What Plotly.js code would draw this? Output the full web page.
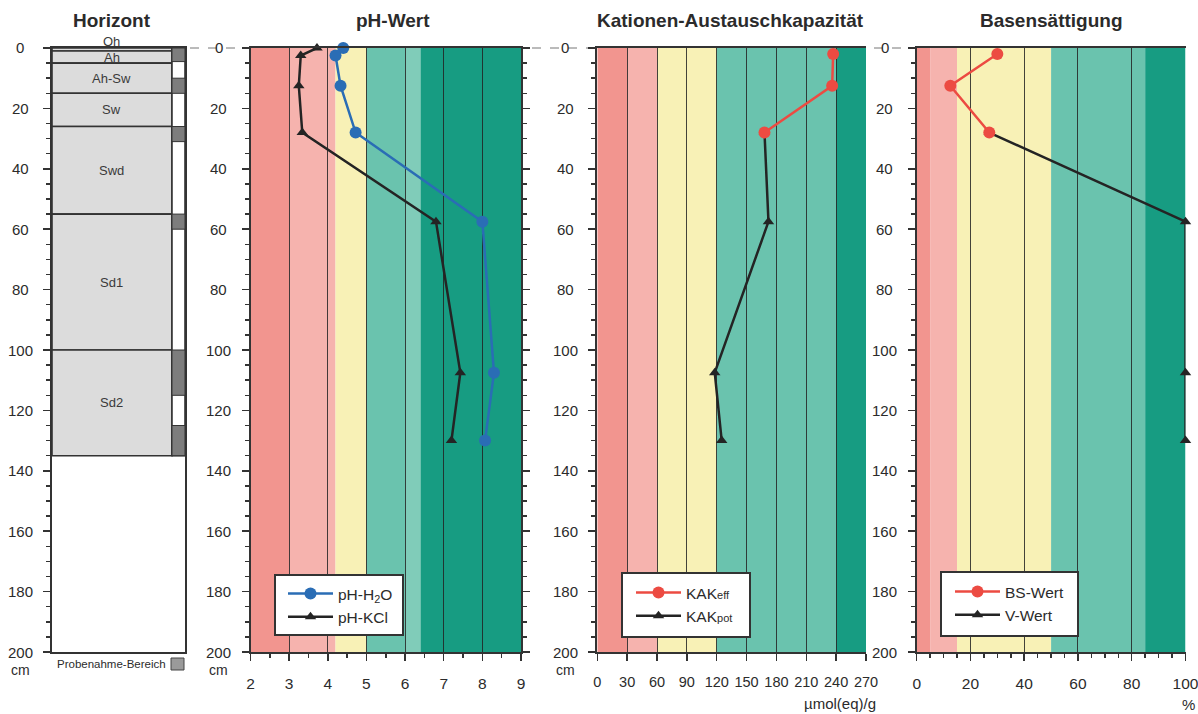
<!DOCTYPE html>
<html><head><meta charset="utf-8">
<script src="https://cdn.plot.ly/plotly-3.0.1.min.js"></script>
<style>html,body{margin:0;padding:0;background:#fff}#chart{width:1198px;height:714px}</style>
</head><body><div id="chart"></div>
<script>
// ---------- data ----------
const horizonNames  = ['Oh','Ah','Ah-Sw','Sw','Swd','Sd1','Sd2'];
const horizonTop    = [0, 1, 5, 15, 26, 55, 100];
const horizonBottom = [1, 5, 15, 26, 55, 100, 135];
const sampleTop     = [0, 10, 26, 55, 100, 125];
const sampleBottom  = [4.5, 15, 31, 60, 115, 135];

const phDepth = [0, 2.5, 12.5, 28, 57.5, 107.5, 130];
const phH2O   = [4.4, 4.2, 4.33, 4.72, 8.0, 8.3, 8.07];
const phKCl   = [3.72, 3.3, 3.25, 3.34, 6.8, 7.43, 7.2];

const kakEffDepth = [2, 12.5, 28];
const kakEff      = [237, 236, 168];
const kakPotDepth = [28, 57.5, 107.5, 130];
const kakPot      = [168, 172, 118, 125];

const bsDepth = [2, 12.5, 28];
const bsWert  = [30, 12.5, 27];
const vDepth  = [28, 57.5, 107.5, 130];
const vWert   = [27, 100, 100, 100];

const phBandEdges  = [2, 3, 4.2, 5, 6, 6.4, 9];
const kakBandEdges = [0, 30, 60, 120, 240, 270];
const bsBandEdges  = [0, 5, 15, 50, 85, 100];

const phTicks  = [2, 3, 4, 5, 6, 7, 8, 9];
const kakTicks = [0, 30, 60, 90, 120, 150, 180, 210, 240, 270];
const bsTicks  = [0, 20, 40, 60, 80, 100];
const depthTicks = [0, 20, 40, 60, 80, 100, 120, 140, 160, 180, 200];

// ---------- styles ----------
const C = {salmon:'#f2958f', pink:'#f6b3ae', yellow:'#f8f1b6', teal:'#6ac3ae', tealL:'#80ccb9', dark:'#179c82'};
const phBandColors  = [C.salmon, C.pink, C.yellow, C.teal, C.tealL, C.dark];
const kakBandColors = [C.salmon, C.pink, C.yellow, C.teal, C.dark];
const bsBandColors  = [C.salmon, C.pink, C.yellow, C.teal, C.dark];

const W = 1198, H = 714;
const px = x => x / W;
const py = y => 1 - y / H;
const FONT = 'Arial, "Liberation Sans", sans-serif';
const ink = '#2b2b2b';
const yDom = [py(652), py(48)];

const shapes = [];
const annotations = [];

// dashed zero line across panels
shapes.push({type:'line', xref:'paper', yref:'paper', x0:px(190), x1:px(917), y0:py(48), y1:py(48),
  line:{color:'#777', width:1, dash:'dash'}, layer:'below'});

function bands(edges, colors, xr, yr) {
  for (let i = 0; i < colors.length; i++) {
    shapes.push({type:'rect', xref:xr, yref:yr + ' domain', x0:edges[i], x1:edges[i+1], y0:0, y1:1,
      fillcolor:colors[i], line:{width:0}, layer:'below'});
  }
}
bands(phBandEdges, phBandColors, 'x2', 'y2');
bands(kakBandEdges, kakBandColors, 'x3', 'y3');
bands(bsBandEdges, bsBandColors, 'x4', 'y4');

// horizon column
const mainW = 0.902;
for (let i = 0; i < horizonNames.length; i++) {
  shapes.push({type:'rect', xref:'x', yref:'y', x0:0, x1:mainW, y0:horizonTop[i], y1:horizonBottom[i],
    fillcolor:'#dcdcdc', line:{color:'#333', width:1.6}});
  const thick = horizonBottom[i] - horizonTop[i];
  annotations.push({xref:'x', yref:'y', x:mainW/2, y: thick < 3 ? horizonTop[i] : (horizonTop[i]+horizonBottom[i])/2,
    yanchor: thick < 3 ? 'bottom' : 'middle', yshift: thick < 3 ? -3 : 0, text:horizonNames[i], showarrow:false,
    font:{family:FONT, size:13, color:'#3a3a3a'}});
}
shapes.push({type:'rect', xref:'x', yref:'y', x0:mainW, x1:1, y0:0, y1:horizonBottom[horizonBottom.length-1],
  fillcolor:'#fff', line:{color:'#333', width:1.6}});
for (let i = 0; i < sampleTop.length; i++) {
  shapes.push({type:'rect', xref:'x', yref:'y', x0:mainW, x1:1, y0:sampleTop[i], y1:sampleBottom[i],
    fillcolor:'#7d7d7d', line:{color:'#333', width:1}});
}

// depth tick labels, centred (as in the original)
const yAxisPx = {y:52, y2:250.5, y3:597.3, y4:916.7};
for (const yr in yAxisPx) {
  for (const t of depthTicks) {
    annotations.push({xref:'paper', yref:yr, x:px(yAxisPx[yr] - 32), y:t, text:String(t), showarrow:false,
      xanchor:'center', yanchor:'middle', font:{family:FONT, size:15, color:ink}});
  }
}

// titles and units
function ann(x, y, text, size, bold, extra) {
  annotations.push(Object.assign({xref:'paper', yref:'paper', x:px(x), y:py(y), text: bold ? '<b>'+text+'</b>' : text,
    showarrow:false, xanchor:'center', yanchor:'middle', font:{family:FONT, size:size, color:ink}}, extra||{}));
}
ann(112, 20, 'Horizont', 19, true);
ann(393, 20, 'pH-Wert', 19, true);
ann(730, 20, 'Kationen-Austauschkapazität', 19, true);
ann(1051, 20, 'Basensättigung', 19, true);
ann(20, 670, 'cm', 14, false);
ann(218.5, 670, 'cm', 14, false);
ann(565.3, 670, 'cm', 14, false);
ann(878, 703, 'µmol(eq)/g', 15, false, {xanchor:'right'});
ann(1188, 704, '%', 15, false);
ann(168, 664, 'Probenahme-Bereich', 11.5, false, {xanchor:'right'});
shapes.push({type:'rect', xref:'paper', yref:'paper', x0:px(171), x1:px(184), y0:py(670), y1:py(658),
  fillcolor:'#9a9a9a', line:{color:'#444', width:1}});

// legend boxes
const legendBoxes = [[275, 575, 403, 635], [622, 573, 750, 637], [941, 572, 1078, 636]];
for (const b of legendBoxes) {
  shapes.push({type:'rect', xref:'paper', yref:'paper', x0:px(b[0]), x1:px(b[2]), y0:py(b[1]), y1:py(b[3]),
    fillcolor:'#fff', line:{color:'#333', width:2}, layer:'above'});
}

// ---------- axes ----------
function yAxis(anchor, mirror) {
  return {anchor:anchor, domain:yDom, range:[200,0], tickvals:depthTicks, ticks:'outside', ticklen:7, tickwidth:1.5,
    tickcolor:'#333', minor:{dtick:5, ticks:'outside', ticklen:4, tickcolor:'#333'},
    showline:true, linecolor:'#333', linewidth:2, mirror:mirror, showgrid:false, zeroline:false, showticklabels:false};
}
function xAxis(dom, range, ticks, minor, anchor, fsize) {
  return {domain:dom, range:range, tickvals:ticks, anchor:anchor, ticks:'outside', ticklen:7, tickwidth:1.5, tickcolor:'#333',
    minor: minor ? {dtick:minor, ticks:'outside', ticklen:4, tickcolor:'#333'} : undefined,
    showgrid:true, gridcolor:'rgba(35,35,35,0.85)', gridwidth:1, zeroline:false,
    showline:true, linecolor:'#333', linewidth:2, mirror:true, ticklabeloverflow:'allow',
    tickfont:{family:FONT, size:fsize || 15.5, color:ink}, ticklabelstandoff:9};
}

const legendBase = {xanchor:'left', yanchor:'top', bgcolor:'rgba(0,0,0,0)', borderwidth:0, itemwidth:45,
  font:{family:FONT, size:15.5, color:ink}, tracegroupgap:0};

const layout = {
  width:W, height:H, margin:{l:0, r:0, t:0, b:0}, paper_bgcolor:'#fff', plot_bgcolor:'#fff',
  xaxis:{domain:[px(52), px(185)], range:[0,1], anchor:'y', showticklabels:false, ticks:'', showgrid:false, zeroline:false,
    showline:true, linecolor:'#333', linewidth:2, mirror:true},
  yaxis: yAxis('x', true),
  xaxis2: xAxis([px(250.5), px(521)], [2,9], phTicks, 0.5, 'y2'),
  yaxis2: yAxis('x2', 'ticks'),
  xaxis3: xAxis([px(597.3), px(866)], [0,270], kakTicks, null, 'y3', 14.5),
  yaxis3: yAxis('x3', false),
  xaxis4: xAxis([px(916.7), px(1185.5)], [0,100], bsTicks, 5, 'y4'),
  yaxis4: yAxis('x4', false),
  shapes: shapes, annotations: annotations,
  legend:  Object.assign({x:px(283), y:py(577)}, legendBase),
  legend2: Object.assign({x:px(631), y:py(576)}, legendBase),
  legend3: Object.assign({x:px(950), y:py(575)}, legendBase),
  showlegend:true
};

const BLUE = '#2a6db5', RED = '#ec4b42', BLK = '#242424';
const SUB = t => '<span style="font-size:11px">' + t + '</span>';
const traces = [
  {x:phH2O, y:phDepth, xaxis:'x2', yaxis:'y2', name:'pH-H<sub>2</sub>O', mode:'lines+markers', cliponaxis:false,
   line:{color:BLUE, width:2.5}, marker:{symbol:'circle', size:12, color:BLUE}, legend:'legend'},
  {x:phKCl, y:phDepth, xaxis:'x2', yaxis:'y2', name:'pH-KCl', mode:'lines+markers', cliponaxis:false,
   line:{color:BLK, width:2.5}, marker:{symbol:'triangle-up', size:10, color:BLK}, legend:'legend'},
  {x:kakPot, y:kakPotDepth, xaxis:'x3', yaxis:'y3', name:'KAK' + SUB('pot'), mode:'lines+markers', cliponaxis:false,
   line:{color:BLK, width:2.5}, marker:{symbol:'triangle-up', size:10, color:BLK}, legend:'legend2', legendrank:2},
  {x:kakEff, y:kakEffDepth, xaxis:'x3', yaxis:'y3', name:'KAK' + SUB('eff'), mode:'lines+markers', cliponaxis:false,
   line:{color:RED, width:2.5}, marker:{symbol:'circle', size:12, color:RED}, legend:'legend2', legendrank:1},
  {x:vWert, y:vDepth, xaxis:'x4', yaxis:'y4', name:'V-Wert', mode:'lines+markers', cliponaxis:false,
   line:{color:BLK, width:2.5}, marker:{symbol:'triangle-up', size:10, color:BLK}, legend:'legend3', legendrank:2},
  {x:bsWert, y:bsDepth, xaxis:'x4', yaxis:'y4', name:'BS-Wert', mode:'lines+markers', cliponaxis:false,
   line:{color:RED, width:2.5}, marker:{symbol:'circle', size:12, color:RED}, legend:'legend3', legendrank:1}
];

Plotly.newPlot('chart', traces, layout, {staticPlot:true, displayModeBar:false});
</script>
</body></html>
